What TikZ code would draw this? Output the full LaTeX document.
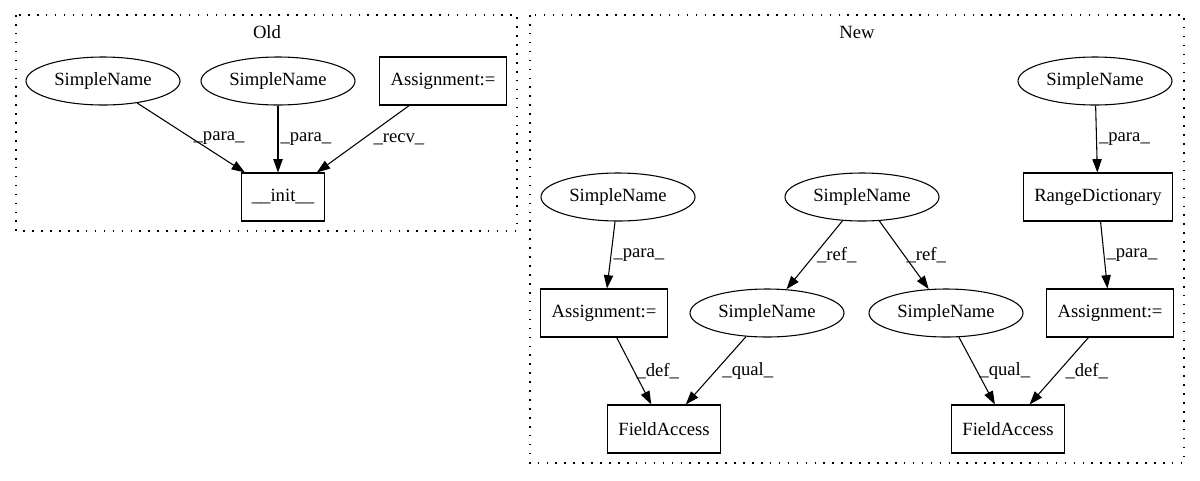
\documentclass[tikz,border=0pt]{standalone}
\usepackage{fontspec}
\setmainfont{Liberation Serif}
\usetikzlibrary{arrows.meta,shapes.geometric}
\begin{document}
\begin{tikzpicture}[x=0.75pt, y=-0.75pt, line width=0.8pt,
  font=\fontsize{14}{16}\selectfont,
  sn/.style={draw, ellipse, minimum width=115.5pt, minimum height=36pt, inner sep=0pt},
  op/.style={draw, rectangle, minimum width=54pt, minimum height=36pt, inner xsep=8pt, inner ysep=0pt},
  lbl/.style={anchor=west, inner sep=1.5pt},
  dep/.style={-{Triangle[length=10pt,width=7pt]}},
  grp/.style={draw, dash pattern=on 1.2pt off 5.5pt}]
\useasboundingbox (0,0) rectangle (1200,480);

% clusters
\draw[grp] (16,15) rectangle (517,231);
\draw[grp] (530,15) rectangle (1184,463);
\node (old) at (267,32) {Old};
\node (new) at (857,32) {New};

% old
\node[sn] (S1) at (103,81) {SimpleName};
\node[sn] (S2) at (278,81) {SimpleName};
\node[op] (A1) at (443,81) {Assignment:=};
\node[op] (I) at (283,197) {\_\_init\_\_};

\draw[dep] (S1) to node[lbl] {\_para\_} (I);
\draw[dep] (S2) to node[lbl] {\_para\_} (S2 |- I.north);
\draw[dep] (A1) to node[lbl, xshift=6pt] {\_recv\_} (I);

% new
\node[sn] (S3) at (1095,81) {SimpleName};
\node[op] (R) at (1098,197) {RangeDictionary};
\node[sn] (S4) at (618,197) {SimpleName};
\node[sn] (S5) at (862,197) {SimpleName};
\node[op] (A2) at (604,313) {Assignment:=};
\node[sn] (S6) at (767,313) {SimpleName};
\node[sn] (S7) at (946,313) {SimpleName};
\node[op] (A3) at (1110,313) {Assignment:=};
\node[op] (F1) at (664,429) {FieldAccess};
\node[op] (F2) at (1008,429) {FieldAccess};

\draw[dep] (S3) to node[lbl] {\_para\_} (R);
\draw[dep] (R) to node[lbl] {\_para\_} (A3);
\draw[dep] (S4) to node[lbl] {\_para\_} (A2);
\draw[dep] (S5) to node[lbl] {\_ref\_} (S6);
\draw[dep] (S5) to node[lbl] {\_ref\_} (S7);
\draw[dep] (A2) to node[lbl] {\_def\_} (F1);
\draw[dep] (S6) to node[lbl, xshift=3pt] {\_qual\_} (F1);
\draw[dep] (S7) to node[lbl] {\_qual\_} (F2);
\draw[dep] (A3) to node[lbl, xshift=3pt] {\_def\_} (F2);
\end{tikzpicture}
\end{document}
